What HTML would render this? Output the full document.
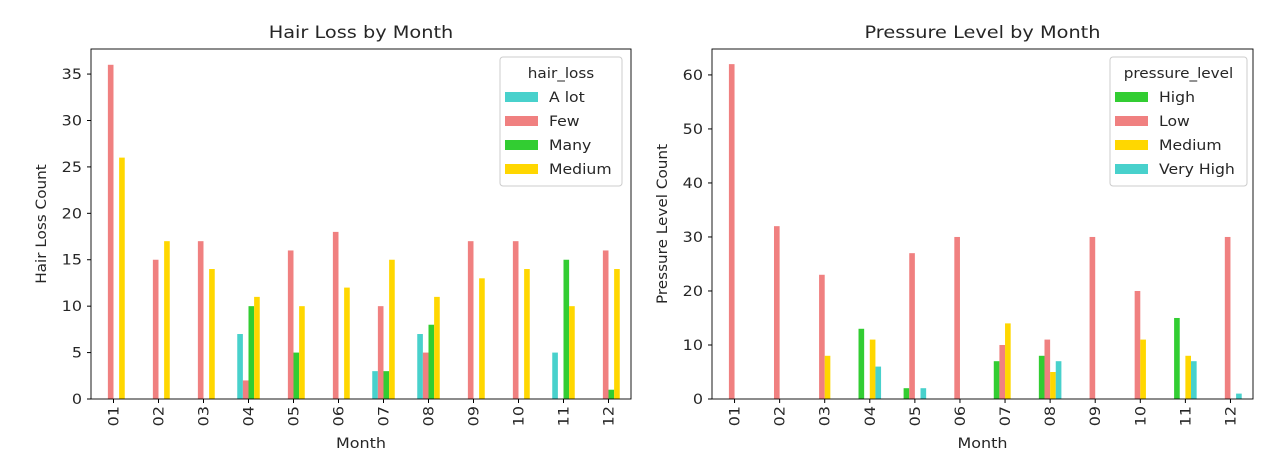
<!DOCTYPE html>
<html><head><meta charset="utf-8">
<style>
body{margin:0;background:#fff;font-family:"DejaVu Sans","Liberation Sans",sans-serif;}
svg text{font-family:"DejaVu Sans","Liberation Sans",sans-serif;fill:#262626;}
</style></head>
<body>
<svg id="s" width="1288" height="470" xmlns="http://www.w3.org/2000/svg"></svg>
<script>
const months = ["01","02","03","04","05","06","07","08","09","10","11","12"];
const hairSeries = ["A lot","Few","Many","Medium"];
const hairALot = [0,0,0,7,0,0,3,7,0,0,5,0];
const hairFew = [36,15,17,2,16,18,10,5,17,17,0,16];
const hairMany = [0,0,0,10,5,0,3,8,0,0,15,1];
const hairMedium = [26,17,14,11,10,12,15,11,13,14,10,14];
const hairTicks = [0,5,10,15,20,25,30,35];
const pressSeries = ["High","Low","Medium","Very High"];
const pressHigh = [0,0,0,13,2,0,7,8,0,0,15,0];
const pressLow = [62,32,23,0,27,30,10,11,30,20,0,30];
const pressMedium = [0,0,8,11,0,0,14,5,0,11,8,0];
const pressVeryHigh = [0,0,0,6,2,0,0,7,0,0,7,1];
const pressTicks = [0,10,20,30,40,50,60];

const NS="http://www.w3.org/2000/svg";
const svg=document.getElementById('s');
function mk(tag,attrs,parent,txt){const e=document.createElementNS(NS,tag);for(const k in attrs)e.setAttribute(k,attrs[k]);if(txt!==undefined)e.textContent=txt;(parent||svg).appendChild(e);return e;}
function widen(t,s){s=s||1.17;try{const w=t.getComputedTextLength();if(w>0){t.setAttribute('textLength',w*s);t.setAttribute('lengthAdjust','spacingAndGlyphs');}}catch(e){}return t;}

function chart(cfg){
  const g=mk('g',{});
  
  
  const L=cfg.left,R=cfg.right,T=49,B=399;
  const n=cfg.cats.length;
  const x=i=>L+(i+0.5)*(R-L)/n;
  const y=v=>B-(v/cfg.ymax)*(B-T);
  const unit=(R-L)/n;
  cfg.series.forEach((vals,si)=>{
    vals.forEach((v,i)=>{
      if(v<=0)return;
      const off=(-0.25+si*0.125)*unit;
      const r=mk('rect',{x:x(i)+off,y:y(v),width:0.125*unit,height:B-y(v),fill:cfg.colors[si]},g);
      
      
    });
  });
  mk('rect',{x:L,y:T,width:R-L,height:B-T,fill:'none',stroke:'#000','stroke-width':0.9},g);
  cfg.ticks.forEach(t=>{
    mk('line',{x1:L-4,x2:L,y1:y(t),y2:y(t),stroke:'#000'},g);
    const tx=widen(mk('text',{x:L-9,y:y(t)+5,'text-anchor':'end','font-size':14.5},g,String(t)),1.1);
    
    
  });
  cfg.cats.forEach((c,i)=>{
    mk('line',{x1:x(i),x2:x(i),y1:B,y2:B+4,stroke:'#000'},g);
    const tx=widen(mk('text',{x:x(i)+5,y:B+7,'text-anchor':'end','font-size':14.5,transform:`rotate(-90 ${x(i)+5} ${B+7})`},g,c),1.1);
    
    
  });
  const tt=widen(mk('text',{x:(L+R)/2,y:38,'text-anchor':'middle','font-size':16.5},g,cfg.title));
  
  
  const xt=widen(mk('text',{x:(L+R)/2,y:448,'text-anchor':'middle','font-size':14.5},g,'Month'),1.1);
  
  
  const yt=widen(mk('text',{x:0,y:0,'text-anchor':'middle','font-size':14.5,transform:`translate(${cfg.ytx} ${(T+B)/2}) rotate(-90)`},g,cfg.ytitle),1.05);
  
  
  const lg=mk('g',{},g);
  
  
  mk('rect',{x:cfg.lx,y:57,width:cfg.lw,height:129,rx:3,fill:'#fff',stroke:'#ccc'},lg);
  widen(mk('text',{x:cfg.lx+cfg.lw/2,y:78,'text-anchor':'middle','font-size':14.5},lg,cfg.ltitle),1.05);
  cfg.labels.forEach((lab,si)=>{
    const yy=97+si*24;
    const e=mk('g',{},lg);
    
    
    mk('rect',{x:cfg.lx+5,y:yy-5,width:33,height:10,fill:cfg.colors[si]},e);
    widen(mk('text',{x:cfg.lx+49,y:yy+5,'font-size':14.5},e,lab),1.08);
  });
}
chart({name:'hair-loss-chart',left:91,right:631,cats:months,series:[hairALot,hairFew,hairMany,hairMedium],labels:hairSeries,
  colors:['#48D1CC','#F08080','#32CD32','#FFD700'],ymax:37.7,ticks:hairTicks,title:'Hair Loss by Month',ytitle:'Hair Loss Count',ytx:46,
  lx:500,lw:122,ltitle:'hair_loss'});
chart({name:'pressure-level-chart',left:712,right:1253,cats:months,series:[pressHigh,pressLow,pressMedium,pressVeryHigh],labels:pressSeries,
  colors:['#32CD32','#F08080','#FFD700','#48D1CC'],ymax:64.8,ticks:pressTicks,title:'Pressure Level by Month',ytitle:'Pressure Level Count',ytx:667,
  lx:1110,lw:137,ltitle:'pressure_level'});
</script>
</body></html>
